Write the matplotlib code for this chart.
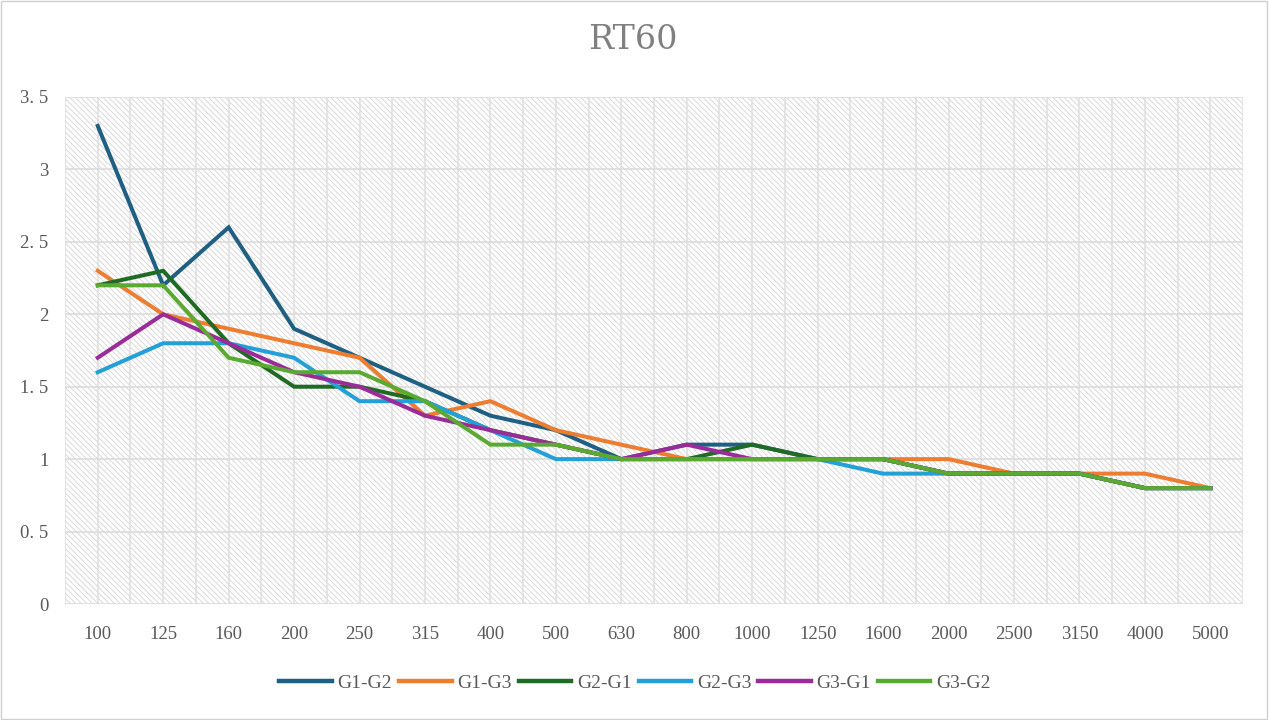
import numpy as np
import matplotlib
matplotlib.use('Agg')
import matplotlib.pyplot as plt
from matplotlib.patches import Rectangle

freqs = ['100', '125', '160', '200', '250', '315', '400', '500', '630', '800',
         '1000', '1250', '1600', '2000', '2500', '3150', '4000', '5000']

g1_g2 = [3.3, 2.2, 2.6, 1.9, 1.7, 1.5, 1.3, 1.2, 1.0, 1.1, 1.1, 1.0, 1.0, 0.9, 0.9, 0.9, 0.8, 0.8]
g1_g3 = [2.3, 2.0, 1.9, 1.8, 1.7, 1.3, 1.4, 1.2, 1.1, 1.0, 1.0, 1.0, 1.0, 1.0, 0.9, 0.9, 0.9, 0.8]
g2_g1 = [2.2, 2.3, 1.8, 1.5, 1.5, 1.4, 1.2, 1.1, 1.0, 1.0, 1.1, 1.0, 1.0, 0.9, 0.9, 0.9, 0.8, 0.8]
g2_g3 = [1.6, 1.8, 1.8, 1.7, 1.4, 1.4, 1.2, 1.0, 1.0, 1.0, 1.0, 1.0, 0.9, 0.9, 0.9, 0.9, 0.8, 0.8]
g3_g1 = [1.7, 2.0, 1.8, 1.6, 1.5, 1.3, 1.2, 1.1, 1.0, 1.1, 1.0, 1.0, 1.0, 0.9, 0.9, 0.9, 0.8, 0.8]
g3_g2 = [2.2, 2.2, 1.7, 1.6, 1.6, 1.4, 1.1, 1.1, 1.0, 1.0, 1.0, 1.0, 1.0, 0.9, 0.9, 0.9, 0.8, 0.8]

series = [('G1-G2', g1_g2, '#1f5f82'),
          ('G1-G3', g1_g3, '#ed7d31'),
          ('G2-G1', g2_g1, '#1e6b24'),
          ('G2-G3', g2_g3, '#24a0d8'),
          ('G3-G1', g3_g1, '#9a2b98'),
          ('G3-G2', g3_g2, '#5aaa32')]

yticks = [0, 0.5, 1, 1.5, 2, 2.5, 3, 3.5]
ytick_labels = ['0', '0. 5', '1', '1. 5', '2', '2. 5', '3', '3. 5']

plt.rcParams['hatch.linewidth'] = 0.6
plt.rcParams['hatch.color'] = '#c8c8c8'

fig = plt.figure(figsize=(12.7, 7.2), dpi=100)
# outer border of the chart area
fig.patches.append(Rectangle((0.001, 0.002), 0.997, 0.996, transform=fig.transFigure,
                             fill=False, edgecolor='#d0d0d0', linewidth=1))

ax = fig.add_axes([0.0512, 0.1611, 0.9276, 0.7042])
x = np.arange(len(freqs))

# hatched background
ax.add_patch(Rectangle((0, 0), 1, 1, transform=ax.transAxes, facecolor='white',
                       hatch='\\\\\\\\\\\\', edgecolor='#d4d4d4', linewidth=0, zorder=0))

for k in np.arange(-0.5, 17.6, 0.5):
    ax.axvline(k, color='#e0e0e0', linewidth=1.2, zorder=1)
for yv in yticks:
    ax.axhline(yv, color='#dcdcdc', linewidth=1.2, zorder=1)

for name, vals, col in series:
    ax.plot(x, vals, color=col, linewidth=2.9, label=name, zorder=3,
            solid_joinstyle='miter')

ax.set_xlim(-0.5, 17.5)
ax.set_ylim(0, 3.5)
ax.set_xticks(x)
ax.set_xticklabels(freqs)
ax.set_yticks(yticks)
ax.set_yticklabels(ytick_labels)
ax.tick_params(length=0, labelsize=13.5, colors='#595959', pad=16)
ax.tick_params(axis='y', pad=12)
for lab in ax.get_xticklabels() + ax.get_yticklabels():
    lab.set_family('Liberation Serif')
for s in ax.spines.values():
    s.set_visible(False)

fig.text(0.4985, 0.945, 'RT60', ha='center', va='center', fontsize=24,
         family='DejaVu Serif', color='#808080', fontweight='light')

leg = fig.legend(loc='center', bbox_to_anchor=(0.5, 0.051), ncol=6, frameon=False,
                 handlelength=2.7, columnspacing=0.35, handletextpad=0.3,
                 prop={'family': 'Liberation Serif', 'size': 14})
for t in leg.get_texts():
    t.set_color('#595959')
for h in leg.legend_handles:
    h.set_linewidth(3.2)

fig.savefig('out.png', dpi=100)
